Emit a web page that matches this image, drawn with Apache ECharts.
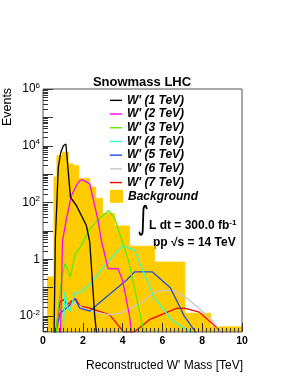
<!DOCTYPE html>
<html><head><meta charset="utf-8">
<script src="https://cdn.jsdelivr.net/npm/echarts@6/dist/echarts.min.js"></script>
<style>html,body{margin:0;padding:0;background:#fff}#c{width:291px;height:376px}</style>
</head><body><div id="c"></div>
<script>
// ---- data ----
const bgEdges  = [0.22, 0.55, 0.7, 0.98, 1.27, 1.52, 1.8, 2.35, 2.65, 3.0, 3.6, 4.35, 5.6, 7.13, 8.43, 10.0];
const bgValues = [0.24, 800, 4500, 6000, 2300, 2000, 700, 350, 140, 41, 15, 2.9, 0.8, 0.0126, 0.0042];

const w1x = [0.55, 0.62, 0.77, 0.89, 1.02, 1.15, 1.38, 1.48, 1.68, 1.93, 2.18, 2.35, 2.6, 2.75];
const w1y = [0.001, 5, 1750, 5700, 10000, 11500, 155, 123, 78, 35, 15.5, 4, 0.01, 0.001];

const w2x = [0.88, 0.98, 1.18, 1.43, 1.68, 1.85, 1.98, 2.35, 2.52, 2.77, 2.93, 3.27, 3.77, 4.0, 4.35, 4.52];
const w2y = [0.002, 4.5, 27, 178, 400, 590, 630, 460, 135, 23, 4.7, 0.47, 0.47, 0.18, 0.01, 0.001];

const w3x = [0.65, 0.77, 0.93, 1.1, 1.18, 1.38, 1.6, 1.93, 2.3, 2.77, 3.3, 3.6, 4.3, 4.9, 5.2];
const w3y = [0.002, 0.021, 0.18, 0.7, 0.55, 0.24, 1.4, 3.1, 10.5, 25, 52, 28, 0.9, 0.01, 0.001];

const w4x = [1.0, 1.1, 1.22, 1.35, 1.6, 1.93, 2.35, 3.3, 4.0, 4.6, 5.6, 6.5, 7.75];
const w4y = [0.001, 0.07, 0.021, 0.014, 0.065, 0.075, 0.13, 0.9, 3.0, 2.1, 0.043, 0.007, 0.002];

const w5x = [0.62, 0.85, 1.35, 1.6, 1.85, 2.35, 3.3, 4.18, 4.6, 5.5, 6.4, 7.1, 7.8];
const w5y = [0.002, 0.0125, 0.024, 0.042, 0.019, 0.015, 0.055, 0.18, 0.36, 0.36, 0.1, 0.01, 0.002];

const w6x = [0.72, 1.0, 1.6, 2.2, 3.35, 3.9, 5.0, 5.7, 6.6, 7.2, 7.85, 8.5, 9.0];
const w6y = [0.001, 0.016, 0.029, 0.016, 0.011, 0.013, 0.032, 0.077, 0.08, 0.044, 0.0185, 0.007, 0.0025];

const w7x = [0.55, 0.85, 1.05, 1.22, 1.45, 1.65, 1.85, 2.35, 3.35, 4.05, 4.6, 5.35, 6.7, 7.1, 7.85, 9.2];
const w7y = [0.001, 0.032, 0.038, 0.025, 0.035, 0.04, 0.023, 0.019, 0.011, 0.0028, 0.0028, 0.0075, 0.0186, 0.019, 0.0138, 0.002];

const names  = ["W' (1 TeV)", "W' (2 TeV)", "W' (3 TeV)", "W' (4 TeV)", "W' (5 TeV)", "W' (6 TeV)", "W' (7 TeV)"];
const colors = ['#000000', '#ff00ff', '#55ee00', '#33ffcc', '#1f4fe0', '#c8c8c8', '#ff0000'];
const sigX = [w1x, w2x, w3x, w4x, w5x, w6x, w7x];
const sigY = [w1y, w2y, w3y, w4y, w5y, w6y, w7y];
const bgName = 'Background';

const yMajorLabels = [-2, 0, 2, 4, 6];
const yMajorTicks = [-2, -1, 0, 1, 2, 3, 4, 5, 6];
const xTickLabels = [0, 2, 4, 6, 8, 10];

// ---- build ----
const Y_MIN = -2.56, Y_MAX = 6;
const FONT = 'Liberation Sans, Arial, Helvetica, sans-serif';
const lg = Math.log10;
const minorTicks = [];
for (let n = -3; n <= 5; n++) for (let k = 2; k <= 9; k++) {
  const v = lg(k) + n;
  if (v > Y_MIN && v < Y_MAX) minorTicks.push(v);
}
const bgData = bgValues.map((v, i) => [bgEdges[i], bgEdges[i + 1], lg(v)]);

const series = [{
  name: bgName, type: 'custom', z: 1, clip: true,
  itemStyle: { color: '#ffcc00' },
  encode: { x: [0, 1], y: 2 },
  data: bgData,
  renderItem: function (params, api) {
    const p0 = api.coord([api.value(0), api.value(2)]);
    const p1 = api.coord([api.value(1), Y_MIN]);
    return { type: 'rect', shape: { x: p0[0], y: p0[1], width: p1[0] - p0[0], height: p1[1] - p0[1] },
             style: { fill: '#ffcc00', stroke: '#ffcc00', lineWidth: 0.8 } };
  }
}];
sigX.forEach((xs, s) => {
  series.push({
    name: names[s], type: 'line', z: 3 + (6 - s), symbol: 'none', clip: true,
    color: colors[s],
    lineStyle: { color: colors[s], width: 1.3 },
    data: xs.map((x, i) => [x, lg(sigY[s][i])])
  });
});

function yfmt(v) {
  const n = Math.round(v);
  if (n === 0) return '{n|1}';
  return '{n|10}{s|' + n + '}';
}
const legendText = { fontFamily: FONT, fontWeight: 'bold', fontStyle: 'italic', fontSize: 12, color: '#000', lineHeight: 13.7 };

const chart = echarts.init(document.getElementById('c'), null, { renderer: 'canvas' });
chart.setOption({
  animation: false,
  backgroundColor: '#fff',
  textStyle: { fontFamily: FONT },
  title: { text: 'Snowmass LHC', left: 142, top: 76, textAlign: 'center', padding: 0,
           textStyle: { fontFamily: FONT, fontWeight: 'bold', fontSize: 13, color: '#000' } },
  grid: { left: 43, right: 49, top: 89, bottom: 44, show: true, borderColor: '#555', borderWidth: 1, backgroundColor: 'transparent', z: 20 },
  legend: [{
    orient: 'vertical', left: 110, top: 93.5, padding: 0, itemWidth: 12, itemHeight: 1.4, itemGap: 0,
    selectedMode: false, textStyle: legendText,
    data: names.map(n => ({ name: n, icon: 'rect' }))
  }, {
    orient: 'vertical', left: 110, top: 189.5, padding: 0, itemWidth: 13, itemHeight: 13, itemGap: 0,
    selectedMode: false, textStyle: legendText,
    data: [{ name: bgName, icon: 'rect' }]
  }],
  xAxis: {
    type: 'value', min: 0, max: 10, interval: 2, z: 20,
    axisLine: { show: false, onZero: false }, splitLine: { show: false },
    axisTick: { show: true, inside: true, length: 9, lineStyle: { color: '#333' } },
    minorTick: { show: true, splitNumber: 10, length: 4, lineStyle: { color: '#333' } },
    axisLabel: { customValues: xTickLabels, fontFamily: FONT, fontWeight: 'bold', fontSize: 10.5, color: '#000', margin: 4 }
  },
  yAxis: [{
    type: 'value', min: Y_MIN, max: Y_MAX, z: 20,
    axisLine: { show: false, onZero: false }, splitLine: { show: false },
    axisTick: { show: true, inside: true, length: 10, customValues: yMajorTicks, lineStyle: { color: '#333' } },
    axisLabel: { customValues: yMajorLabels, formatter: yfmt, margin: 3, color: '#000',
      rich: { n: { fontFamily: FONT, fontSize: 12, color: '#000' },
              s: { fontFamily: FONT, fontSize: 8, color: '#000', padding: [0, 0, 7, 0] } } }
  }, {
    type: 'value', min: Y_MIN, max: Y_MAX, position: 'left', z: 20,
    axisLine: { show: false, onZero: false }, splitLine: { show: false }, axisLabel: { show: false },
    axisTick: { show: true, inside: true, length: 5, customValues: minorTicks, lineStyle: { color: '#333' } }
  }],
  graphic: [
    { type: 'text', x: 8, y: 107, rotation: Math.PI / 2,
      style: { text: 'Events', fontFamily: FONT, fontSize: 12.5, fill: '#000', align: 'center', verticalAlign: 'middle' } },
    { type: 'text', x: 243, y: 366,
      style: { text: "Reconstructed W' Mass [TeV]", fontFamily: FONT, fontSize: 12, fill: '#000', align: 'right', verticalAlign: 'middle' } },
    { type: 'text', x: 143, y: 221, scaleX: 0.7,
      style: { text: '\u222B', fontFamily: 'DejaVu Sans', fontSize: 32, fill: '#000', align: 'center', verticalAlign: 'middle' } },
    { type: 'text', x: 149, y: 226,
      style: { text: '{a|L dt = 300.0 fb}{b|-1}', verticalAlign: 'middle', align: 'left',
        rich: { a: { fontFamily: FONT, fontWeight: 'bold', fontSize: 12, fill: '#000' },
                b: { fontFamily: FONT, fontWeight: 'bold', fontSize: 8, fill: '#000', padding: [0, 0, 7, 0] } } } },
    { type: 'text', x: 153, y: 243,
      style: { text: 'pp \u221As = 14 TeV', fontFamily: FONT, fontWeight: 'bold', fontSize: 12, fill: '#000', align: 'left', verticalAlign: 'middle' } }
  ],
  series: series
});
</script></body></html>
